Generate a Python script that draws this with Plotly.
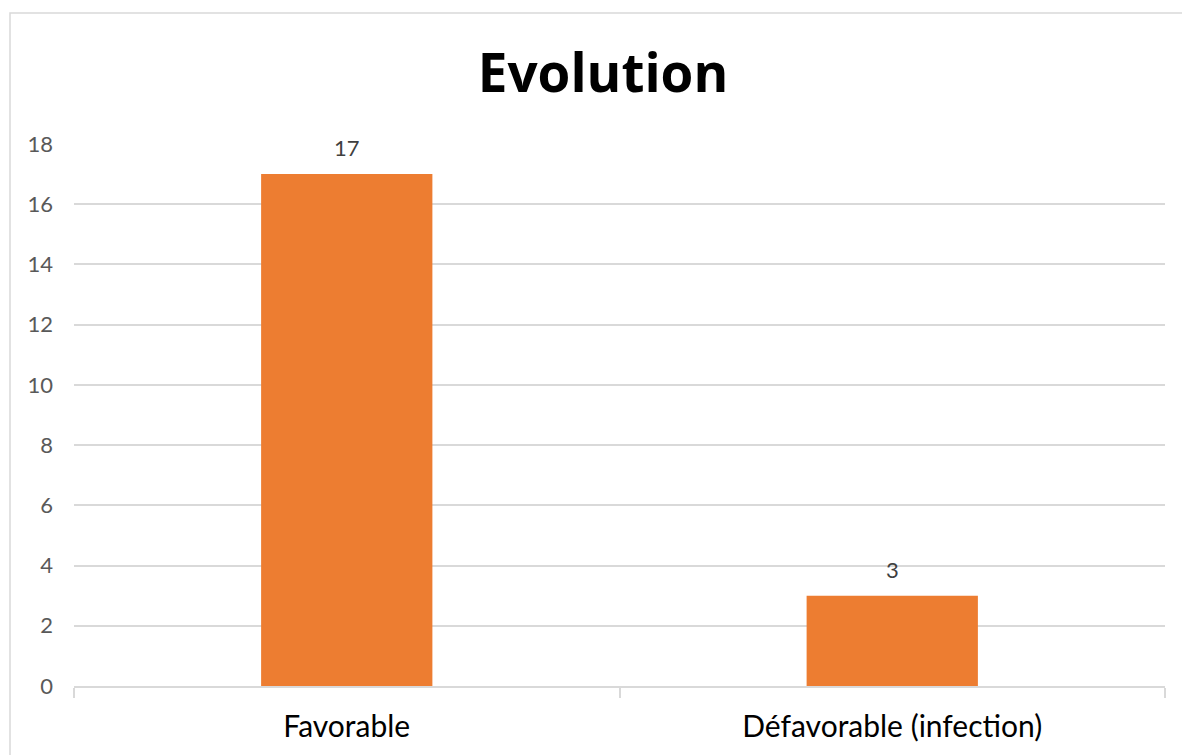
import plotly.graph_objects as go

categories = ["Favorable", "Défavorable (infection)"]
values = [17, 3]
y_ticks = [0, 2, 4, 6, 8, 10, 12, 14, 16, 18]

W, H = 1182, 755
L, R, T, B = 74, W - 1165, 144, H - 686
pw, ph = W - L - R, H - T - B

fig = go.Figure()
fig.add_trace(go.Bar(
    x=categories, y=values,
    marker=dict(color="#ED7D31", line=dict(width=0)),
    width=0.314,
    hoverinfo="skip",
))

for c, v in zip(categories, values):
    fig.add_annotation(x=c, y=v, text=str(v), showarrow=False,
                       yanchor="bottom", yshift=11,
                       font=dict(family="Lato", size=22, color="#404040"))

# chart border
fig.add_shape(type="rect", xref="paper", yref="paper",
              x0=(10 - L) / pw, x1=1.2, y0=-0.3, y1=(686 - 13) / ph,
              line=dict(color="#D9D9D9", width=1.5), fillcolor="rgba(0,0,0,0)",
              layer="below")

fig.update_layout(
    width=W, height=H,
    margin=dict(l=L, r=R, t=T, b=B, pad=0),
    paper_bgcolor="white", plot_bgcolor="white",
    showlegend=False,
    title=dict(text="<b>Evolution</b>", x=603 / W, xanchor="center",
               y=1 - 73 / H, yanchor="middle",
               font=dict(family="Open Sans", size=53, color="#000000")),
    font=dict(family="Lato"),
    xaxis=dict(
        type="category", tickson="boundaries", ticks="outside", ticklen=10,
        tickcolor="#D9D9D9", tickwidth=1.5,
        showline=True, linecolor="#D9D9D9", linewidth=1.5,
        showgrid=False, zeroline=False,
        tickfont=dict(family="Lato", size=30, color="#000000"),
        ticklabelstandoff=13,
    ),
    yaxis=dict(
        range=[0, 18], tickvals=y_ticks, ticktext=[str(t) for t in y_ticks],
        showgrid=True, gridcolor="#D9D9D9", gridwidth=1.5,
        zeroline=False, showline=False, ticks="",
        tickfont=dict(family="Lato", size=22, color="#595959"),
        ticklabelstandoff=20,
    ),
)

fig.write_html("out.html")
